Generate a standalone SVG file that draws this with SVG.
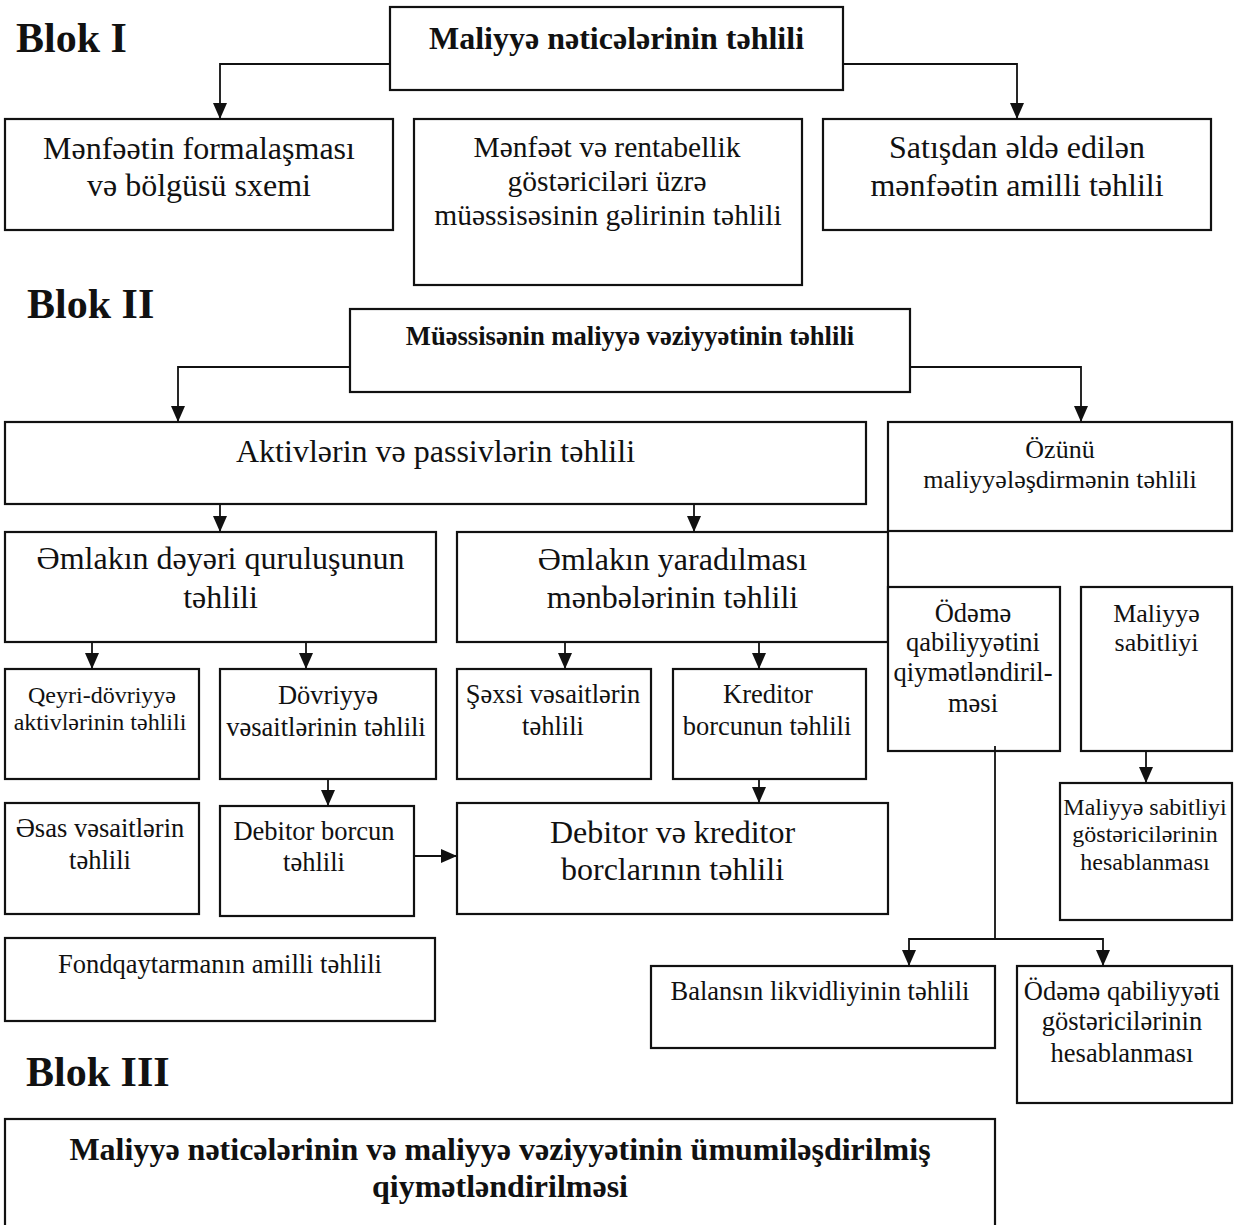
<svg xmlns="http://www.w3.org/2000/svg" width="1234" height="1225" viewBox="0 0 1234 1225">
  <style>
    .box { fill: #ffffff; stroke: #111111; stroke-width: 2.2; }
    .edge { fill: none; stroke: #111111; stroke-width: 1.8; }
    text { font-family: "Liberation Serif", "Times New Roman", serif; fill: #111111; text-anchor: middle; }
    .b { font-weight: bold; }
    .blk { font-size: 42px; font-weight: bold; text-anchor: start; }
    .t32 { font-size: 32px; }
    .t30 { font-size: 29.5px; }
    .t27 { font-size: 26.5px; }
    .t24 { font-size: 24px; }
  </style>
  <defs>
    <marker id="arr" markerUnits="userSpaceOnUse" markerWidth="16" markerHeight="14" refX="16" refY="7" orient="auto">
      <path d="M0,0 L16,7 L0,14 z" fill="#111111"/>
    </marker>
  </defs>

  <rect width="1234" height="1225" fill="#ffffff"/>

  <!-- block headings -->
  <text class="blk" x="16" y="52">Blok I</text>
  <text class="blk" x="27" y="318">Blok II</text>
  <text class="blk" x="26" y="1086">Blok III</text>

  <!-- Block I -->
  <g id="n-fin-results">
    <rect class="box" x="390" y="7" width="453" height="83"/>
    <text class="b t32" x="616.5" y="49">Maliyyə nəticələrinin təhlili</text>
  </g>
  <g id="n-profit-scheme">
    <rect class="box" x="5" y="119" width="388" height="111"/>
    <text class="t32" x="199" y="159">Mənfəətin formalaşması</text>
    <text class="t32" x="199" y="196">və bölgüsü sxemi</text>
  </g>
  <g id="n-income">
    <rect class="box" x="414" y="119" width="388" height="166"/>
    <text class="t30" x="607" y="157">Mənfəət və rentabellik</text>
    <text class="t30" x="607" y="191">göstəriciləri üzrə</text>
    <text class="t30" x="608" y="225">müəssisəsinin gəlirinin təhlili</text>
  </g>
  <g id="n-sales-profit">
    <rect class="box" x="823" y="119" width="388" height="111"/>
    <text class="t32" x="1017" y="158">Satışdan əldə edilən</text>
    <text class="t32" x="1017" y="196">mənfəətin amilli təhlili</text>
  </g>

  <!-- Block II -->
  <g id="n-fin-state">
    <rect class="box" x="350" y="309" width="560" height="83"/>
    <text class="b" x="630" y="345" style="font-size:26.6px">Müəssisənin maliyyə vəziyyətinin təhlili</text>
  </g>
  <g id="n-assets">
    <rect class="box" x="5" y="422" width="861" height="82"/>
    <text class="t32" x="435.5" y="462">Aktivlərin və passivlərin təhlili</text>
  </g>
  <g id="n-self-finance">
    <rect class="box" x="888" y="422" width="344" height="109"/>
    <text x="1060" y="458" style="font-size:26px">Özünü</text>
    <text x="1060" y="488" style="font-size:26px">maliyyələşdirmənin təhlili</text>
  </g>
  <g id="n-prop-value">
    <rect class="box" x="5" y="532" width="431" height="110"/>
    <text class="t32" x="220.5" y="569">Əmlakın dəyəri quruluşunun</text>
    <text class="t32" x="220.5" y="608">təhlili</text>
  </g>
  <g id="n-prop-source">
    <rect class="box" x="457" y="532" width="431" height="110"/>
    <text class="t32" x="672.5" y="570">Əmlakın yaradılması</text>
    <text class="t32" x="672.5" y="608">mənbələrinin təhlili</text>
  </g>
  <g id="n-solvency">
    <rect class="box" x="888" y="587" width="172" height="164"/>
    <text x="973" y="622" style="font-size:26.5px">Ödəmə</text>
    <text x="973" y="651" style="font-size:26.5px">qabiliyyətini</text>
    <text x="973" y="681" style="font-size:26.5px">qiymətləndiril-</text>
    <text x="973" y="712" style="font-size:26.5px">məsi</text>
  </g>
  <g id="n-stability">
    <rect class="box" x="1081" y="587" width="151" height="164"/>
    <text x="1156.5" y="622" style="font-size:26px">Maliyyə</text>
    <text x="1156.5" y="651" style="font-size:26px">sabitliyi</text>
  </g>
  <g id="n-noncurrent">
    <rect class="box" x="5" y="669" width="194" height="110"/>
    <text class="t24" x="102" y="703">Qeyri-dövriyyə</text>
    <text class="t24" x="100" y="730">aktivlərinin təhlili</text>
  </g>
  <g id="n-current">
    <rect class="box" x="220" y="669" width="216" height="110"/>
    <text class="t27" x="328" y="704">Dövriyyə</text>
    <text class="t27" x="326" y="736">vəsaitlərinin təhlili</text>
  </g>
  <g id="n-own-funds">
    <rect class="box" x="457" y="669" width="194" height="110"/>
    <text class="t27" x="553" y="703">Şəxsi vəsaitlərin</text>
    <text class="t27" x="553" y="735">təhlili</text>
  </g>
  <g id="n-creditor">
    <rect class="box" x="673" y="669" width="193" height="110"/>
    <text class="t27" x="768" y="703">Kreditor</text>
    <text class="t27" x="767" y="735">borcunun təhlili</text>
  </g>
  <g id="n-fixed-assets">
    <rect class="box" x="5" y="803" width="194" height="111"/>
    <text class="t27" x="100" y="837">Əsas vəsaitlərin</text>
    <text class="t27" x="100" y="869">təhlili</text>
  </g>
  <g id="n-debtor">
    <rect class="box" x="220" y="806" width="194" height="110"/>
    <text class="t27" x="314" y="840">Debitor borcun</text>
    <text class="t27" x="314" y="871">təhlili</text>
  </g>
  <g id="n-debts">
    <rect class="box" x="457" y="803" width="431" height="111"/>
    <text class="t32" x="672.5" y="843">Debitor və kreditor</text>
    <text class="t32" x="672.5" y="880">borclarının təhlili</text>
  </g>
  <g id="n-stability-calc">
    <rect class="box" x="1060" y="783" width="172" height="137"/>
    <text class="t24" x="1145" y="815">Maliyyə sabitliyi</text>
    <text class="t24" x="1145" y="842">göstəricilərinin</text>
    <text class="t24" x="1145" y="870">hesablanması</text>
  </g>
  <g id="n-fund-return">
    <rect class="box" x="5" y="938" width="430" height="83"/>
    <text class="t27" x="220" y="973">Fondqaytarmanın amilli təhlili</text>
  </g>
  <g id="n-liquidity">
    <rect class="box" x="651" y="966" width="344" height="82"/>
    <text class="t27" x="820" y="1000">Balansın likvidliyinin təhlili</text>
  </g>
  <g id="n-solvency-calc">
    <rect class="box" x="1017" y="966" width="215" height="137"/>
    <text class="t27" x="1122" y="1000">Ödəmə qabiliyyəti</text>
    <text class="t27" x="1122" y="1030">göstəricilərinin</text>
    <text class="t27" x="1122" y="1062">hesablanması</text>
  </g>

  <!-- Block III -->
  <g id="n-summary">
    <rect class="box" x="5" y="1119" width="990" height="130"/>
    <text class="b t32" x="500" y="1160">Maliyyə nəticələrinin və maliyyə vəziyyətinin ümumiləşdirilmiş</text>
    <text class="b t32" x="500" y="1197">qiymətləndirilməsi</text>
  </g>

  <!-- connectors -->
  <g id="connectors">
    <path class="edge" d="M390,64 H220 V119" marker-end="url(#arr)"/>
    <path class="edge" d="M843,64 H1017 V119" marker-end="url(#arr)"/>
    <path class="edge" d="M350,367 H178 V422" marker-end="url(#arr)"/>
    <path class="edge" d="M910,367 H1081 V422" marker-end="url(#arr)"/>
    <path class="edge" d="M220,504 V532" marker-end="url(#arr)"/>
    <path class="edge" d="M694,504 V532" marker-end="url(#arr)"/>
    <path class="edge" d="M92,642 V669" marker-end="url(#arr)"/>
    <path class="edge" d="M306,642 V669" marker-end="url(#arr)"/>
    <path class="edge" d="M565,642 V669" marker-end="url(#arr)"/>
    <path class="edge" d="M759,642 V669" marker-end="url(#arr)"/>
    <path class="edge" d="M328,779 V806" marker-end="url(#arr)"/>
    <path class="edge" d="M759,779 V803" marker-end="url(#arr)"/>
    <path class="edge" d="M414,856 H457" marker-end="url(#arr)"/>
    <path class="edge" d="M1146,751 V783" marker-end="url(#arr)"/>
    <path class="edge" d="M995,746 V939 H909 V966" marker-end="url(#arr)"/>
    <path class="edge" d="M995,939 H1103 V966" marker-end="url(#arr)"/>
  </g>
</svg>
